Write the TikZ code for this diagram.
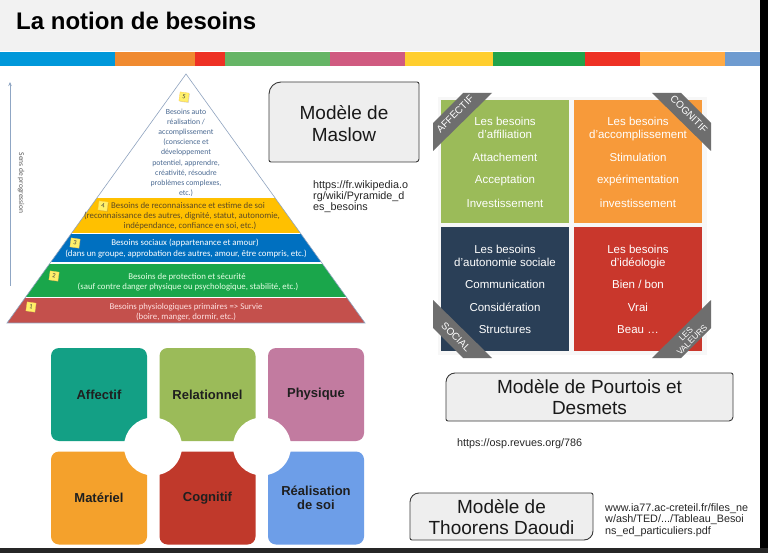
\documentclass[tikz,border=0pt]{standalone}
\usepackage{fontspec}
\setmainfont{Liberation Sans}
\newfontfamily\calfont{Carlito}
\usetikzlibrary{arrows.meta,shadows}
\definecolor{hdr}{HTML}{F2F2F2}
\definecolor{bar1}{HTML}{0098DA}
\definecolor{bar2}{HTML}{F08A30}
\definecolor{bar3}{HTML}{EE3124}
\definecolor{bar4}{HTML}{66B566}
\definecolor{bar5}{HTML}{D05A80}
\definecolor{bar6}{HTML}{FFCE2E}
\definecolor{bar7}{HTML}{22A34A}
\definecolor{bar8}{HTML}{EE3124}
\definecolor{bar9}{HTML}{FFAA45}
\definecolor{bar10}{HTML}{6E9BD0}
\definecolor{pyrY}{HTML}{FFC000}
\definecolor{pyrB}{HTML}{0070C0}
\definecolor{pyrG}{HTML}{1AA64B}
\definecolor{pyrR}{HTML}{C4504C}
\definecolor{pyrTop}{HTML}{4B6A92}
\definecolor{pyrYtxt}{HTML}{5E4B22}
\definecolor{pyrLine}{HTML}{8FA3BF}
\definecolor{badgeY}{HTML}{FFF06A}
\definecolor{pgreen}{HTML}{9BBB59}
\definecolor{porange}{HTML}{F79A3A}
\definecolor{pnavy}{HTML}{2A3F57}
\definecolor{pred}{HTML}{C9372C}
\definecolor{ribbon}{HTML}{6E6E6E}
\definecolor{tteal}{HTML}{13A085}
\definecolor{tgreen}{HTML}{9BBB59}
\definecolor{tmauve}{HTML}{C27BA0}
\definecolor{torange}{HTML}{F4A12C}
\definecolor{tred}{HTML}{C0392B}
\definecolor{tblue}{HTML}{6D9EE8}
\definecolor{boxfill}{HTML}{EEEEEE}
\definecolor{boxline}{HTML}{3A3A3A}
\definecolor{arrcol}{HTML}{8FA6C4}
\tikzset{
  pyrtxt/.style={anchor=base, inner sep=0pt, font=\calfont\fontsize{7.8}{9}\selectfont},
  bandtxt/.style={anchor=base, inner sep=0pt, font=\calfont\fontsize{8.8}{10}\selectfont},
  badge/.style={fill=badgeY, draw=badgeY!70!orange, line width=0.3pt, minimum size=9pt, inner sep=0pt,
     font=\calfont\fontsize{6.5}{7}\selectfont, text=black!75, rotate=-8,
     drop shadow={opacity=0.3, shadow xshift=0.8pt, shadow yshift=-0.8pt}},
  ptile/.style={inner sep=0pt, minimum width=128pt, minimum height=123.5pt},
  ptxt/.style={anchor=base, inner sep=0pt, text=white, font=\fontsize{11.5}{13}\selectfont},
  rtxt/.style={inner sep=0pt, text=white, font=\fontsize{10}{9}\selectfont, align=center},
  ctile/.style={rounded corners=8pt, inner sep=0pt, minimum width=96pt, minimum height=93pt,
     font=\bfseries\fontsize{13}{14.5}\selectfont, text=black!88, align=center},
  boxst/.style={fill=boxfill, draw=boxline, line width=0.9pt},
  boxtxt/.style={anchor=base, inner sep=0pt, font=\fontsize{19}{21}\selectfont, text=black!90},
  urltxt/.style={anchor=base west, inner sep=0pt, font=\fontsize{10.8}{11}\selectfont, text=black!85},
  arrline/.style={draw=arrcol, line width=0.8pt, -{Stealth[length=4pt,width=3.5pt]}}
}
\newcommand\mkbox[6]{%
  \draw[boxst] (#1,#2+#5) .. controls (#1,#2+0.45*#5) and (#1+0.45*#5,#2) .. (#1+#5,#2)
   -- (#3-2,#2) .. controls (#3-0.9,#2) and (#3,#2+0.9) .. (#3,#2+2)
   -- (#3,#4-#6) .. controls (#3,#4-0.45*#6) and (#3-0.45*#6,#4) .. (#3-#6,#4)
   -- (#1+2,#4) .. controls (#1+0.9,#4) and (#1,#4-0.9) .. (#1,#4-2) -- cycle;}
\begin{document}
\begin{tikzpicture}[x=1pt,y=-1pt]
\useasboundingbox (0,0) rectangle (768,553);
\fill[white] (0,0) rectangle (768,553);
% header
\fill[hdr] (0,0) rectangle (768,51);
\foreach \a/\b/\c in {0/115/bar1,115/195/bar2,195/225/bar3,225/330/bar4,330/405/bar5,405/493/bar6,493/585/bar7,585/640/bar8,640/725/bar9,725/768/bar10}
  \fill[\c] (\a,52) rectangle (\b,66);
\node[anchor=base west, inner sep=0pt, font=\bfseries\fontsize{24}{27}\selectfont] (title) at (16,29.5) {La notion de besoins};

% progression arrow
\coordinate (arrb) at (10,286);
\coordinate (arrt) at (10,82);
\draw[arrline] (arrb) -- (arrt);
\node[rotate=-90, inner sep=0pt, font=\calfont\fontsize{7.5}{8}\selectfont, text=black!65] (sens) at (21,183) {Sens de progression};

% pyramid
\coordinate (apex) at (186,74);
\coordinate (bl) at (7,323);
\coordinate (br) at (365,323);
\begin{scope}
\clip (apex) -- (bl) -- (br) -- cycle;
\fill[pyrY] (0,198) rectangle (400,233);
\fill[pyrB] (0,234.5) rectangle (400,262.5);
\fill[pyrG] (0,264) rectangle (400,296.5);
\fill[pyrR] (0,298) rectangle (400,323);
\end{scope}
\draw[draw=pyrLine, line width=0.6pt] (apex) -- (bl) -- (br) -- cycle;

\foreach \t [count=\i] in {{Besoins auto},{réalisation /},{accomplissement},{(conscience et},{développement},{potentiel, apprendre,},{créativité, résoudre},{problèmes complexes,},{etc.)}}
  \node[pyrtxt, text=pyrTop] (top\i) at (186,{114.6+(\i-1)*10.1}) {\t};

\node[bandtxt, text=pyrYtxt] (y1) at (188,208.8) {Besoins de reconnaissance et estime de soi};
\node[bandtxt, text=pyrYtxt] (y2) at (182,218.8) {(reconnaissance des autres, dignité, statut, autonomie,};
\node[bandtxt, text=pyrYtxt] (y3) at (190,228.8) {indépendance, confiance en soi, etc.)};
\node[bandtxt, text=white] (bb1) at (185,245.8) {Besoins sociaux (appartenance et amour)};
\node[bandtxt, text=white] (bb2) at (186,256.8) {(dans un groupe, approbation des autres, amour, être compris, etc.)};
\node[bandtxt, text=white!90!green] (g1) at (187,279.8) {Besoins de protection et sécurité};
\node[bandtxt, text=white!90!green] (g2) at (188,289.8) {(sauf contre danger physique ou psychologique, stabilité, etc.)};
\node[bandtxt, text=white!88!red] (r1) at (186,309.8) {Besoins physiologiques primaires => Survie};
\node[bandtxt, text=white!88!red] (r2) at (186,319.8) {(boire, manger, dormir, etc.)};

\node[badge] (b5) at (184,97) {5};
\node[badge] (b4) at (103,206) {4};
\node[badge] (b3) at (75,243) {3};
\node[badge] (b2) at (54,276) {2};
\node[badge] (b1) at (31,307) {1};

% Maslow box
\mkbox{269}{82}{419}{162}{12}{3}
\node[boxtxt] (mas1) at (344,119.3) {Modèle de};
\node[boxtxt] (mas2) at (344,141.3) {Maslow};
\node[urltxt] (url1a) at (313,188.6) {https://fr.wikipedia.o};
\node[urltxt] (url1b) at (313,199.6) {rg/wiki/Pyramide\_d};
\node[urltxt] (url1c) at (313,210.6) {es\_besoins};

% Pourtois grid
\fill[black!3] (438,97) rectangle (707,355);
\node[ptile, fill=pgreen] (affil) at (505,161.5) {};
\node[ptile, fill=porange] (accomp) at (638,161.5) {};
\node[ptile, fill=pnavy] (auton) at (505,289) {};
\node[ptile, fill=pred] (ideol) at (638,289) {};

\foreach \t [count=\i] in {Les besoins,d’affiliation,Attachement,Acceptation,Investissement}
  \node[ptxt] (ga\i) at (505,{\i==1?125.5:(\i==2?138.1:(\i==3?161.5:(\i==4?183.8:207.1)))}) {\t};
\foreach \t [count=\i] in {Les besoins,d’accomplissement,Stimulation,expérimentation,investissement}
  \node[ptxt] (oa\i) at (638,{\i==1?125.5:(\i==2?138.1:(\i==3?161.5:(\i==4?183.8:207.1)))}) {\t};
\foreach \t [count=\i] in {Les besoins,d’autonomie sociale,Communication,Considération,Structures}
  \node[ptxt] (na\i) at (505,{\i==1?253.1:(\i==2?266.1:(\i==3?288.8:(\i==4?311.5:333.8)))}) {\t};
\foreach \t [count=\i] in {Les besoins,d’idéologie,Bien / bon,Vrai,Beau …}
  \node[ptxt] (ra\i) at (638,{\i==1?253.1:(\i==2?266.1:(\i==3?288.8:(\i==4?311.5:333.8)))}) {\t};

% ribbons
\fill[ribbon] (433,123) -- (463,93) -- (492,93) -- (433,151) -- cycle;
\fill[ribbon] (711,123) -- (681,93) -- (652,93) -- (711,151) -- cycle;
\fill[ribbon] (433,328) -- (463,358) -- (492,358) -- (433,300) -- cycle;
\fill[ribbon] (711,328) -- (681,358) -- (652,358) -- (711,300) -- cycle;
\node[rtxt, rotate=45] (rib1) at (455,114) {AFFECTIF};
\node[rtxt, rotate=-45] (rib2) at (689,114) {COGNITIF};
\node[rtxt, rotate=-45] (rib3) at (456,337) {SOCIAL};
\node[rtxt, rotate=45, font=\fontsize{8.5}{8.5}\selectfont] (rib4) at (689,337) {LES\\VALEURS};

% Pourtois box
\mkbox{446}{373}{733}{421}{9}{4}
\node[boxtxt] (pou1) at (589.5,393.3) {Modèle de Pourtois et};
\node[boxtxt] (pou2) at (589.5,414.3) {Desmets};
\node[urltxt] (url2) at (457,446.6) {https://osp.revues.org/786};

% Thoorens box
\mkbox{410}{493}{593}{540}{9}{9}
\node[boxtxt] (tho1) at (501.5,513.3) {Modèle de};
\node[boxtxt] (tho2) at (501.5,534.3) {Thoorens Daoudi};
\node[urltxt] (url3a) at (605,511.6) {www.ia77.ac-creteil.fr/files\_ne};
\node[urltxt] (url3b) at (605,522.6) {w/ash/TED/.../Tableau\_Besoi};
\node[urltxt] (url3c) at (605,534.6) {ns\_ed\_particuliers.pdf};

% bottom-left tiles
\node[ctile, fill=tteal] (affectif) at (99,394.5) {Affectif};
\node[ctile, fill=tgreen] (relation) at (207.5,394.5) {Relationnel};
\node[ctile, fill=tmauve] (physique) at (316,394.5) {Physique};
\node[ctile, fill=torange] (materiel) at (99,498) {Matériel};
\node[ctile, fill=tred] (cognitif) at (207.5,498) {Cognitif};
\node[ctile, fill=tblue] (realis) at (316,498) {Réalisation\\de soi};
\fill[white] (153,446.5) circle[radius=29pt];
\fill[white] (262,446.5) circle[radius=29pt];

% screen border
\fill[black] (760,0) rectangle (768,553);
\fill[black!85] (0,548) rectangle (768,553);
\end{tikzpicture}
\end{document}
